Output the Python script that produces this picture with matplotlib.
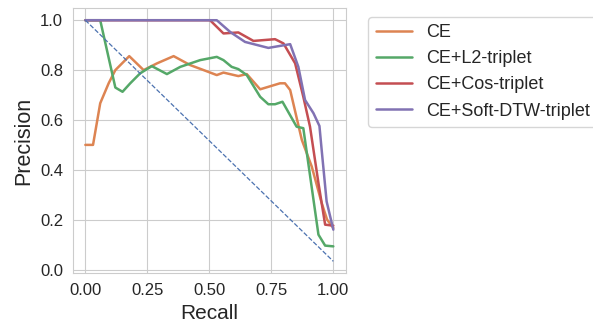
import matplotlib
matplotlib.use('Agg')
import matplotlib.pyplot as plt
import seaborn as sns

sns.set_style('whitegrid')
plt.rcParams['font.family'] = ['Liberation Sans', 'DejaVu Sans']

# precision / recall curves
ce_recall = [0, 0.031, 0.06, 0.094, 0.121, 0.177, 0.235, 0.289, 0.356, 0.423, 0.477, 0.53,
             0.557, 0.617, 0.651, 0.705, 0.785, 0.805, 0.826, 0.873, 0.913, 0.953, 0.975, 1.0]
ce_precision = [0.5, 0.5, 0.667, 0.747, 0.8, 0.856, 0.8, 0.827, 0.856, 0.82, 0.8, 0.78,
                0.79, 0.776, 0.784, 0.723, 0.747, 0.747, 0.72, 0.52, 0.413, 0.267, 0.2, 0.167]

l2_recall = [0, 0.06, 0.121, 0.15, 0.181, 0.221, 0.268, 0.329, 0.383, 0.463, 0.53, 0.557,
             0.59, 0.617, 0.651, 0.705, 0.738, 0.765, 0.795, 0.852, 0.879, 0.94, 0.967, 1.0]
l2_precision = [1.0, 1.0, 0.73, 0.713, 0.747, 0.787, 0.816, 0.784, 0.813, 0.84, 0.853, 0.84,
                0.813, 0.804, 0.78, 0.693, 0.663, 0.663, 0.673, 0.573, 0.567, 0.14, 0.096, 0.093]

cos_recall = [0, 0.503, 0.557, 0.617, 0.678, 0.765, 0.799, 0.846, 0.879, 0.906, 0.92, 0.94, 0.967, 1.0]
cos_precision = [1.0, 1.0, 0.947, 0.951, 0.917, 0.924, 0.907, 0.827, 0.693, 0.573, 0.48, 0.347, 0.18, 0.176]

dtw_recall = [0, 0.53, 0.584, 0.644, 0.738, 0.826, 0.859, 0.886, 0.92, 0.944, 0.953, 0.973, 1.0]
dtw_precision = [1.0, 1.0, 0.953, 0.913, 0.889, 0.904, 0.813, 0.68, 0.627, 0.576, 0.48, 0.273, 0.16]

baseline_recall = [0, 1.0]
baseline_precision = [1.0, 0.033]

colors = sns.color_palette('deep')

fig, ax = plt.subplots(figsize=(5.93, 3.27), dpi=100)
fig.subplots_adjust(left=0.123, right=0.583, top=0.975, bottom=0.164)

ax.plot(ce_recall, ce_precision, color=colors[1], lw=1.8, label='CE')
ax.plot(l2_recall, l2_precision, color=colors[2], lw=1.8, label='CE+L2-triplet')
ax.plot(cos_recall, cos_precision, color=colors[3], lw=1.8, label='CE+Cos-triplet')
ax.plot(dtw_recall, dtw_precision, color=colors[4], lw=1.8, label='CE+Soft-DTW-triplet')
ax.plot(baseline_recall, baseline_precision, color=colors[0], lw=0.9, ls='--')

ax.set_xticks([0, 0.25, 0.5, 0.75, 1.0])
ax.set_yticks([0, 0.2, 0.4, 0.6, 0.8, 1.0])
ax.tick_params(labelsize=12)
ax.set_xlabel('Recall', fontsize=15)
ax.set_ylabel('Precision', fontsize=15.5)
ax.legend(loc='upper left', bbox_to_anchor=(1.05, 1), fontsize=13)

plt.savefig('out.png', dpi=100)
